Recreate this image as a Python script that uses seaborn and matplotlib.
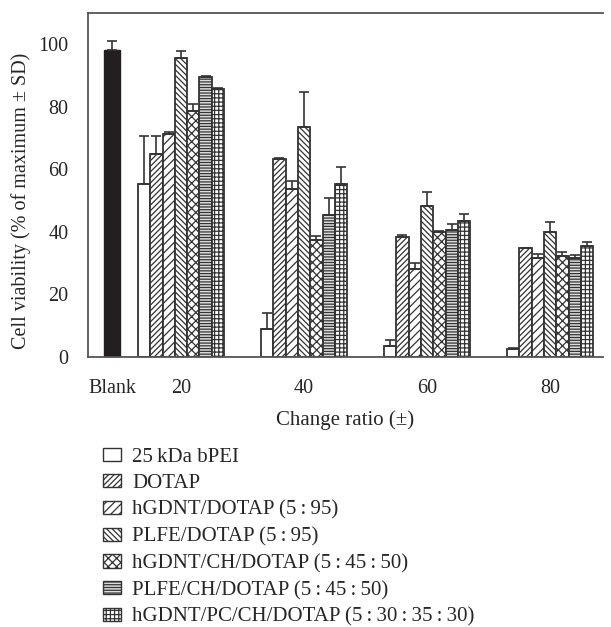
"""Cell viability bar chart — formulations vs charge ratio."""

import matplotlib
matplotlib.use("Agg")
import matplotlib.pyplot as plt
from matplotlib.patches import Patch
import pandas as pd
import seaborn as sns

# --- data ------------------------------------------------------------------
ratios = ["20", "40", "60", "80"]
formulations = [
    "25\u2009kDa bPEI",
    "DOTAP",
    "hGDNT/DOTAP (5\u2009:\u200995)",
    "PLFE/DOTAP (5\u2009:\u200995)",
    "hGDNT/CH/DOTAP (5\u2009:\u200945\u2009:\u200950)",
    "PLFE/CH/DOTAP (5\u2009:\u200945\u2009:\u200950)",
    "hGDNT/PC/CH/DOTAP (5\u2009:\u200930\u2009:\u200935\u2009:\u200930)",
]
means = [
    [55.3, 9.0, 3.5, 2.5],
    [64.8, 63.4, 38.3, 34.8],
    [71.3, 53.7, 28.1, 31.6],
    [95.5, 73.5, 48.2, 40.0],
    [78.6, 37.4, 40.0, 32.3],
    [89.7, 45.4, 40.6, 31.6],
    [85.8, 55.3, 43.5, 35.5],
]
sds = [
    [15.3, 5.2, 2.1, 0.5],
    [5.8, 0.3, 0.7, 0.2],
    [0.5, 2.5, 1.9, 1.3],
    [2.3, 11.2, 4.5, 3.1],
    [2.2, 1.3, 0.3, 1.2],
    [0.3, 5.4, 1.9, 1.0],
    [0.2, 5.4, 2.2, 1.2],
]
blank_mean = 98.1
blank_sd = 3.0

# --- styling ----------------------------------------------------------------
EDGE = "#333333"
FS = 14.5
hatches = ["", "//////", "////", "\\\\\\\\\\\\", "xxxx", "------", "++++"]
faces = ["white", "white", "white", "white", "white", "#dcdcdc", "white"]

sns.set_theme(style="white")
plt.rcParams["font.family"] = ["Liberation Serif", "DejaVu Serif"]
plt.rcParams["hatch.linewidth"] = 0.9
plt.rcParams["hatch.color"] = EDGE

df = pd.DataFrame(
    [(r, f, m) for f, row in zip(formulations, means) for r, m in zip(ratios, row)],
    columns=["ratio", "formulation", "viability"],
)

fig = plt.figure(figsize=(6.11, 6.27), dpi=100)
ax = fig.add_axes([0.144, 0.4306, 0.843, 0.5486])

sns.barplot(data=df, x="ratio", y="viability", hue="formulation",
            order=ratios, hue_order=formulations, width=0.7,
            errorbar=None, legend=False, ax=ax)

for cont, hatch, face, sd_row in zip(ax.containers, hatches, faces, sds):
    xs, tops = [], []
    for bar in cont.patches:
        bar.set_facecolor(face)
        bar.set_edgecolor(EDGE)
        bar.set_linewidth(1.3)
        bar.set_hatch(hatch)
        xs.append(bar.get_x() + bar.get_width() / 2)
        tops.append(bar.get_height())
    ax.errorbar(xs, tops, yerr=[[0] * len(sd_row), sd_row], fmt="none",
                ecolor=EDGE, elinewidth=1.2, capsize=3.5, capthick=1.2, zorder=3)

# blank control sits left of the charge-ratio groups
blank_x = -0.561
ax.bar([blank_x], [blank_mean], width=0.13, color="#231f20", edgecolor="#231f20")
ax.errorbar([blank_x], [blank_mean], yerr=[[0], [blank_sd]], fmt="none",
            ecolor=EDGE, elinewidth=1.2, capsize=3.5, capthick=1.2)

ax.set_xlim(-0.756, 3.43)
ax.set_ylim(0, 110)
ax.set_xticks([blank_x, 0, 1, 2, 3])
ax.set_xticklabels(["Blank"] + ratios)
ax.set_yticks([0, 20, 40, 60, 80, 100])
ax.tick_params(axis="x", direction="out", length=7, width=1,
               color="#555555", labelsize=FS, pad=9)
ax.tick_params(axis="y", direction="out", length=6, width=1,
               color="#555555", labelsize=FS, pad=8)
ax.set_xlabel("Change ratio (\u00b1)", fontsize=15, labelpad=9)
ax.set_ylabel("Cell viability (% of maximum \u00b1 SD)", fontsize=FS)
ax.yaxis.set_label_coords(-0.11, 0.455)

for side in ["left", "bottom", "top"]:
    ax.spines[side].set_color("#555555")
    ax.spines[side].set_linewidth(1.3)
ax.spines["right"].set_visible(False)

handles = [Patch(facecolor=fc, edgecolor=EDGE, hatch=h, linewidth=1)
           for fc, h in zip(faces, hatches)]
fig.legend(handles, formulations, loc="upper left",
           bbox_to_anchor=(0.169, 0.286), frameon=False, fontsize=15,
           handlelength=0.85, handleheight=0.6, handletextpad=0.55,
           labelspacing=0.36, borderaxespad=0, borderpad=0)

fig.savefig("out.png", dpi=100)
plt.close(fig)
